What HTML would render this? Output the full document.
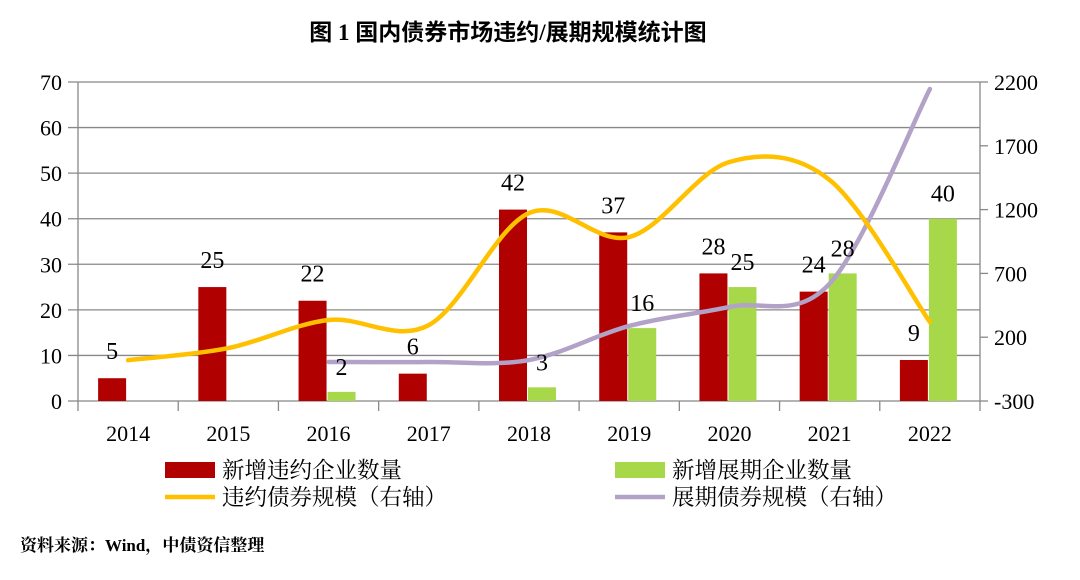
<!DOCTYPE html>
<html><head><meta charset="utf-8"><style>
body{margin:0;background:#fff;width:1080px;height:575px;overflow:hidden}
svg text{font-family:"Liberation Serif","Noto Serif CJK SC",serif}
</style></head><body>
<svg id="c" width="1080" height="575">
<text x="508" y="40" text-anchor="middle" font-size="23" font-weight="bold" style="font-family:'Liberation Serif','Noto Sans CJK SC',serif">图 1  国内债券市场违约/展期规模统计图</text>
<text x="20" y="551" font-size="17" font-weight="bold" style="font-family:'Liberation Serif','Noto Serif CJK SC',serif">资料来源：Wind，中债资信整理</text>
<g id="g"></g>
</svg>
<script>
const categories=["2014","2015","2016","2017","2018","2019","2020","2021","2022"];
const defaultCount=[5,25,22,6,42,37,28,24,9];
const extendCount=[null,null,2,null,3,16,25,28,40];
const defaultScale=[20,115,335,295,1173,985,1573,1432,319];
const extendScale=[null,null,6,6,21,288,437,620,2145];
const leftTicks=[0,10,20,30,40,50,60,70];
const rightTicks=[-300,200,700,1200,1700,2200];
const X0=78,X1=980,Y0=401,Y1=82;
const cw=(X1-X0)/categories.length;
const xc=i=>X0+cw*(i+0.5);
const yl=v=>Y0-(v/70)*(Y0-Y1);
const yr=v=>Y0-((v+300)/2500)*(Y0-Y1);
const g=document.getElementById('g');
const NS='http://www.w3.org/2000/svg';
function mk(t,a,txt){const e=document.createElementNS(NS,t);for(const k in a)e.setAttribute(k,a[k]);if(txt!=null)e.textContent=txt;g.appendChild(e);return e;}
leftTicks.forEach(v=>{
 let l=mk('line',{x1:68,x2:X1,y1:yl(v),y2:yl(v),stroke:'#888','stroke-width':1.3});
 
 let t=mk('text',{x:62,y:yl(v)+8,'text-anchor':'end','font-size':22},v);
 
});
rightTicks.forEach(v=>{
 let l=mk('line',{x1:X1,x2:X1+8,y1:yr(v),y2:yr(v),stroke:'#888','stroke-width':1.3});
 
 let t=mk('text',{x:994,y:yr(v)+8,'font-size':22},v);
 
});
let ax=mk('line',{x1:X0,x2:X0,y1:Y1,y2:Y0+10,stroke:'#888','stroke-width':1.3});

let ax2=mk('line',{x1:X1,x2:X1,y1:Y1,y2:Y0,stroke:'#888','stroke-width':1.3});

categories.forEach((c,i)=>{
 let tk=mk('line',{x1:X0+cw*(i+1),x2:X0+cw*(i+1),y1:Y0,y2:Y0+10,stroke:'#888','stroke-width':1.3});
 
 let t=mk('text',{x:xc(i),y:441,'text-anchor':'middle','font-size':22},c);
 
 if(defaultCount[i]!=null){
  let r=mk('rect',{x:xc(i)-30,y:yl(defaultCount[i]),width:28,height:Y0-yl(defaultCount[i]),fill:'#b00000'});
  
 }
 if(extendCount[i]!=null){
  let r=mk('rect',{x:xc(i)-1,y:yl(extendCount[i]),width:28,height:Y0-yl(extendCount[i]),fill:'#a6d84a'});
  
 }
});
function smooth(pts){let d='M'+pts[0][0]+','+pts[0][1];
 for(let i=0;i<pts.length-1;i++){const p0=pts[i-1]||pts[i],p1=pts[i],p2=pts[i+1],p3=pts[i+2]||p2;
  d+=' C'+(p1[0]+(p2[0]-p0[0])/6)+','+(p1[1]+(p2[1]-p0[1])/6)+' '+(p2[0]-(p3[0]-p1[0])/6)+','+(p2[1]-(p3[1]-p1[1])/6)+' '+p2[0]+','+p2[1];}
 return d;}
const dp=[];defaultScale.forEach((v,i)=>{if(v!=null)dp.push([xc(i),yr(v)])});
const ep=[];extendScale.forEach((v,i)=>{if(v!=null)ep.push([xc(i),yr(v)])});
let l1=mk('path',{d:smooth(ep),fill:'none',stroke:'#b3a2c7','stroke-width':4.5,'stroke-linecap':'round'});

let l2=mk('path',{d:smooth(dp),fill:'none',stroke:'#ffc000','stroke-width':4.5,'stroke-linecap':'round'});

categories.forEach((c,i)=>{
 if(defaultCount[i]!=null){let t=mk('text',{x:xc(i)-16,y:yl(defaultCount[i])-19,'text-anchor':'middle','font-size':24},defaultCount[i]);
  }
 if(extendCount[i]!=null){let t=mk('text',{x:xc(i)+13,y:yl(extendCount[i])-17,'text-anchor':'middle','font-size':24},extendCount[i]);
  }
});
const legend=[["rect","#b00000","新增违约企业数量",165,470],["rect","#a6d84a","新增展期企业数量",615,470],["line","#ffc000","违约债券规模（右轴）",165,497],["line","#b3a2c7","展期债券规模（右轴）",615,497]];
legend.forEach(L=>{
 let m=L[0]=="rect"?mk('rect',{x:L[3],y:L[4]-8,width:50,height:16,fill:L[1]}):mk('line',{x1:L[3],x2:L[3]+50,y1:L[4],y2:L[4],stroke:L[1],'stroke-width':4.5});
 
 let t=mk('text',{x:L[3]+57,y:L[4]+8,'font-size':22.5},L[2]);
 
});
</script>
</body></html>
